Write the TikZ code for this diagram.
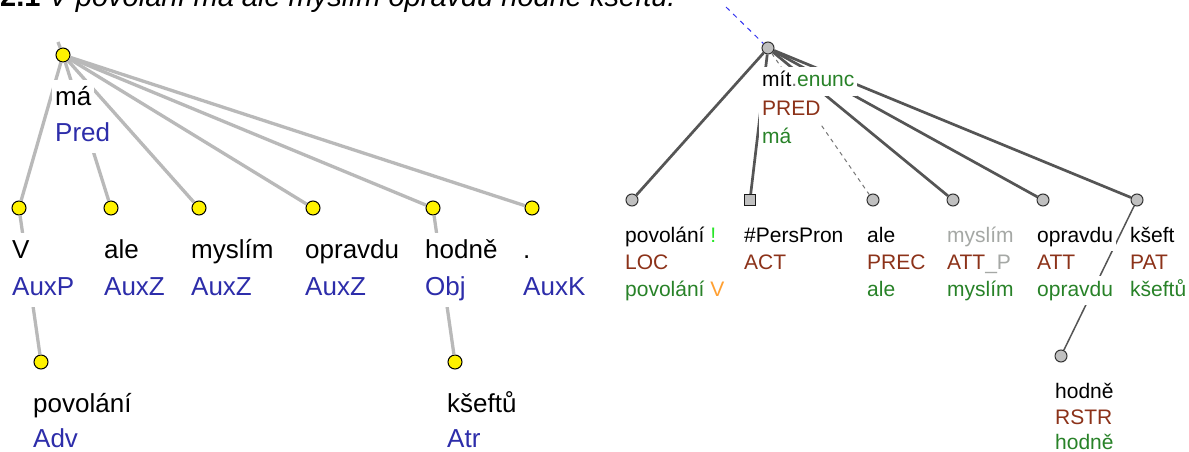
\documentclass[tikz,border=0pt]{standalone}
\usepackage{fontspec}
\setmainfont{Liberation Sans}
\definecolor{lgray}{RGB}{185,185,185}
\definecolor{dgray}{RGB}{85,85,85}
\definecolor{ngray}{RGB}{192,192,192}
\definecolor{lblue}{RGB}{45,45,170}
\definecolor{tbrown}{RGB}{140,50,25}
\definecolor{tgreen}{RGB}{40,130,40}
\definecolor{bgreen}{RGB}{40,230,40}
\definecolor{torange}{RGB}{255,160,50}
\definecolor{tlgray}{RGB}{165,168,165}
\definecolor{eblue}{RGB}{50,50,240}
\definecolor{dotgray}{RGB}{120,120,120}
\newcommand\LeftFnt{\fontsize{26}{30}\selectfont}
\newcommand\RightFnt{\fontsize{21}{25}\selectfont}
\newcommand\CapFnt{\fontsize{29}{33}\selectfont}
\tikzset{
  lnode/.style={circle, fill=yellow, draw=black, line width=1pt, minimum size=14pt, inner sep=0pt},
  rnode/.style={circle, fill=ngray, draw=black!80, line width=1pt, minimum size=12pt, inner sep=0pt},
  rsq/.style={rectangle, fill=ngray, draw=black!90, line width=1pt, minimum size=11pt, inner sep=0pt},
  ledge/.style={draw=lgray, line width=3.3pt},
  redge/.style={draw=dgray, line width=2.7pt},
  rthin/.style={draw=dgray, line width=1.5pt},
  rdash/.style={draw=dgray!80, line width=1pt, dash pattern=on 4pt off 4pt},
  bdash/.style={draw=eblue, line width=1pt, dash pattern=on 5pt off 5pt},
  ltxt/.style={anchor=base west, fill=white, inner xsep=3pt, inner ysep=0pt, text height=25pt, text depth=12pt, font=\LeftFnt},
  lbot/.style={ltxt, text depth=2pt},
  rtxt/.style={anchor=base west, fill=white, inner xsep=3pt, inner ysep=0pt, text height=20pt, text depth=9pt, font=\RightFnt},
}
\begin{document}
\begin{tikzpicture}[x=1pt, y=-1pt]
\clip (0,0) rectangle (1189,452);
\fill[white] (0,0) rectangle (1189,452);
% caption
\node[anchor=base west, inner sep=0pt, font=\CapFnt] (cap) at (0,7) {\textbf{2.1} \textit{V povolání má ale myslím opravdu hodně kšeftů.}};

% ---------- left tree: nodes ----------
\node[lnode] (lr) at (63,55) {};
\node[lnode] (lV) at (19,208) {};
\node[lnode] (lale) at (111,208) {};
\node[lnode] (lmys) at (199,208) {};
\node[lnode] (lopr) at (313,208) {};
\node[lnode] (lhod) at (433,208) {};
\node[lnode] (ldot) at (532,208) {};
\node[lnode] (lpov) at (41,362) {};
\node[lnode] (lkse) at (455,362) {};
\coordinate (ltop) at (58,42);

% ---------- left tree: edges ----------
\draw[ledge] (lr) -- (ltop);
\draw[ledge] (lr) -- (lV);
\draw[ledge] (lr) -- (lale);
\draw[ledge] (lr) -- (lmys);
\draw[ledge] (lr) -- (lopr);
\draw[ledge] (lr) -- (lhod);
\draw[ledge] (lr) -- (ldot);
\draw[ledge] (lV) -- (lpov);
\draw[ledge] (lhod) -- (lkse);

% ---------- left tree: labels ----------
\node[ltxt] (tma) at (52,105) {má};
\node[ltxt, text=lblue] (tpred) at (52,141) {Pred};
\node[ltxt] (tV1) at (9,258) {V};
\node[ltxt, text=lblue] (tV2) at (9,295) {AuxP};
\node[ltxt] (tale1) at (101,258) {ale};
\node[ltxt, text=lblue] (tale2) at (101,295) {AuxZ};
\node[ltxt] (tmys1) at (188,258) {myslím};
\node[ltxt, text=lblue] (tmys2) at (188,295) {AuxZ};
\node[ltxt] (topr1) at (302,258) {opravdu};
\node[ltxt, text=lblue] (topr2) at (302,295) {AuxZ};
\node[ltxt] (thod1) at (422,258) {hodně};
\node[ltxt, text=lblue] (thod2) at (422,295) {Obj};
\node[ltxt] (tdot1) at (520,258) {.};
\node[ltxt, text=lblue] (tdot2) at (520,295) {AuxK};
\node[ltxt] (tpov1) at (30,412) {povolání};
\node[lbot, text=lblue] (tpov2) at (30,447) {Adv};
\node[ltxt] (tkse1) at (444,412) {kšeftů};
\node[lbot, text=lblue] (tkse2) at (444,447) {Atr};

% ---------- right tree: nodes ----------
\node[rnode] (rr) at (768,48) {};
\node[rnode] (rpov) at (632,200) {};
\node[rsq] (rpp) at (750,200) {};
\node[rnode] (rale) at (873,200) {};
\node[rnode] (rmys) at (953,200) {};
\node[rnode] (ropr) at (1043,200) {};
\node[rnode] (rkse) at (1137,200) {};
\node[rnode] (rhod) at (1061,356) {};
\coordinate (rtop) at (726,7);

% ---------- right tree: edges ----------
\draw[bdash] (rtop) -- (rr);
\draw[redge] (rr) -- (rpov);
\draw[redge] (rr) -- (rpp);
\draw[rdash] (rr) -- (rale);
\draw[redge] (rr) -- (rmys);
\draw[redge] (rr) -- (ropr);
\draw[redge] (rr) -- (rkse);
\draw[rthin] (rkse) -- (rhod);

% ---------- right tree: labels ----------
\node[rtxt] (sr1) at (759,87) {mít\textcolor{dotgray}{.}\textcolor{tgreen}{enunc}};
\node[rtxt, text=tbrown] (sr2) at (759,115) {PRED};
\node[rtxt, text=tgreen] (sr3) at (759,143) {má};
\node[rtxt] (spov1) at (622,242) {povolání \textcolor{bgreen}{!}};
\node[rtxt, text=tbrown] (spov2) at (622,269) {LOC};
\node[rtxt] (spov3) at (622,296) {\textcolor{tgreen}{povolání} \textcolor{torange}{V}};
\node[rtxt] (spp1) at (741,242) {\#PersPron};
\node[rtxt, text=tbrown] (spp2) at (741,269) {ACT};
\node[rtxt] (sale1) at (864,242) {ale};
\node[rtxt, text=tbrown] (sale2) at (864,269) {PREC};
\node[rtxt, text=tgreen] (sale3) at (864,296) {ale};
\node[rtxt, text=tlgray] (smys1) at (944,242) {myslím};
\node[rtxt, text=tbrown] (smys2) at (944,269) {ATT\textcolor{tlgray}{\_P}};
\node[rtxt, text=tgreen] (smys3) at (944,296) {myslím};
\node[rtxt] (sopr1) at (1034,242) {opravdu};
\node[rtxt, text=tbrown] (sopr2) at (1034,269) {ATT};
\node[rtxt, text=tgreen] (sopr3) at (1034,296) {opravdu};
\node[rtxt] (skse1) at (1127,242) {kšeft};
\node[rtxt, text=tbrown] (skse2) at (1127,269) {PAT};
\node[rtxt, text=tgreen] (skse3) at (1127,296) {kšeftů};
\node[rtxt] (shod1) at (1052,398) {hodně};
\node[rtxt, text=tbrown] (shod2) at (1052,424) {RSTR};
\node[rtxt, text=tgreen, text depth=2pt] (shod3) at (1052,449) {hodně};
\end{tikzpicture}
\end{document}
